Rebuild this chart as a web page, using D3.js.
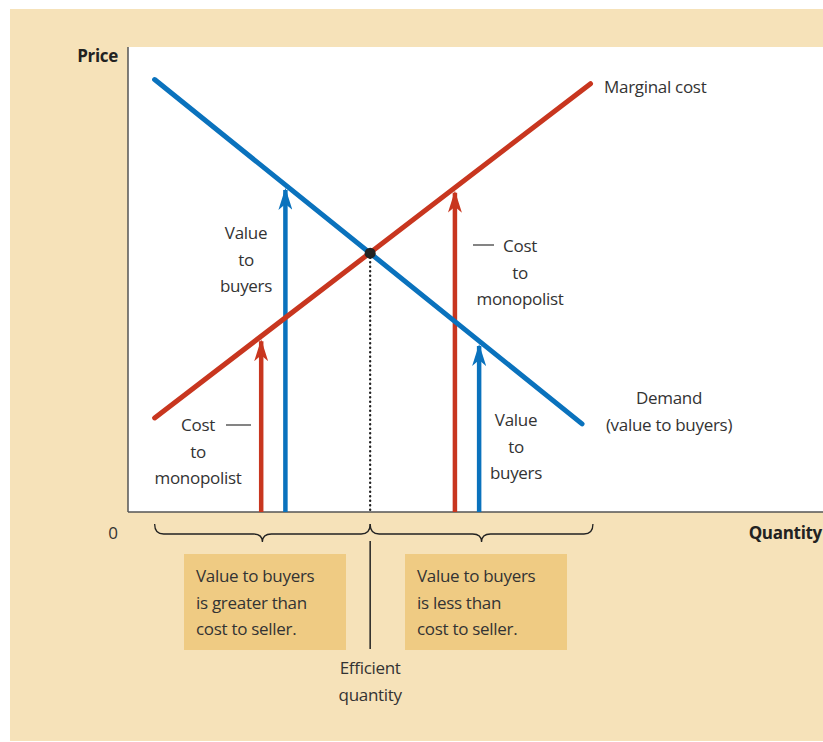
<!DOCTYPE html>
<html>
<head>
<meta charset="utf-8">
<script src="https://cdn.jsdelivr.net/npm/d3@7"></script>
<style>
  body { margin: 0; background: #fff; }
  svg text { font-family: "Open Sans", sans-serif; letter-spacing: -0.3px; fill: #333; }
</style>
</head>
<body>
<div id="chart"></div>
<script>
// curves (quantity, price)
const demand = [[1.1, 16.74], [18.75, 3.41]];
const marginalCost = [[1.1, 3.64], [19.1, 16.58]];
const efficientQ = 10;
// arrows: quantity and which curve they reach
const arrows = [
  { q: 5.5, curve: "mc" },
  { q: 6.5, curve: "d" },
  { q: 13.5, curve: "mc" },
  { q: 14.5, curve: "d" }
];
const braces = [[1.1, efficientQ], [efficientQ, 19.2]];
const boxTexts = [
  ["Value to buyers", "is greater than", "cost to seller."],
  ["Value to buyers", "is less than", "cost to seller."]
];

const W = 823, H = 742;
const blue = "#0a72bd", red = "#c8361f", beige = "#f6e2b9", boxFill = "#efcb83";
const fs = 17;

const svg = d3.select("#chart").append("svg")
  .attr("width", W).attr("height", H);

svg.append("rect").attr("x", 10).attr("y", 9).attr("width", W - 10).attr("height", 732)
  .attr("fill", beige);

const x = d3.scaleLinear().domain([0, 28.7]).range([128, 823]);
const y = d3.scaleLinear().domain([0, 18]).range([512, 47]);

svg.append("rect").attr("x", x(0)).attr("y", y(18))
  .attr("width", W - x(0)).attr("height", y(0) - y(18)).attr("fill", "#fff");

// axes
svg.append("line").attr("x1", x(0)).attr("x2", x(0)).attr("y1", y(18)).attr("y2", y(0))
  .attr("stroke", "#555").attr("stroke-width", 1.5);
svg.append("line").attr("x1", x(0)).attr("x2", W).attr("y1", y(0)).attr("y2", y(0))
  .attr("stroke", "#555").attr("stroke-width", 1.5);

const interp = (pts, q) => {
  const [a, b] = pts;
  return a[1] + (b[1] - a[1]) * (q - a[0]) / (b[0] - a[0]);
};

// arrow markers
const defs = svg.append("defs");
[["blue", blue], ["red", red]].forEach(([id, c]) => {
  defs.append("marker").attr("id", "head-" + id)
    .attr("viewBox", "0 0 22 14").attr("refX", 20).attr("refY", 7)
    .attr("markerUnits", "userSpaceOnUse")
    .attr("markerWidth", 22).attr("markerHeight", 14).attr("orient", "auto")
    .append("path").attr("d", "M0,0 L22,7 L0,14 L6,7 Z").attr("fill", c);
});

arrows.forEach(a => {
  const pts = a.curve === "mc" ? marginalCost : demand;
  const p = interp(pts, a.q);
  svg.append("line")
    .attr("x1", x(a.q)).attr("x2", x(a.q))
    .attr("y1", y(0)).attr("y2", y(p) + 5)
    .attr("stroke", a.curve === "mc" ? red : blue).attr("stroke-width", 4.5)
    .attr("marker-end", `url(#head-${a.curve === "mc" ? "red" : "blue"})`);
});

const line = d3.line().x(d => x(d[0])).y(d => y(d[1]));
svg.append("path").attr("d", line(demand)).attr("stroke", blue).attr("stroke-width", 5)
  .attr("fill", "none").attr("stroke-linecap", "round");
svg.append("path").attr("d", line(marginalCost)).attr("stroke", red).attr("stroke-width", 5)
  .attr("fill", "none").attr("stroke-linecap", "round");

const eqP = interp(demand, efficientQ);
svg.append("line").attr("x1", x(efficientQ)).attr("x2", x(efficientQ))
  .attr("y1", y(eqP)).attr("y2", y(0))
  .attr("stroke", "#222").attr("stroke-width", 2.4).attr("stroke-linecap", "round")
  .attr("stroke-dasharray", "0,4.5");
svg.append("circle").attr("cx", x(efficientQ)).attr("cy", y(eqP)).attr("r", 5.5)
  .attr("fill", "#222");

// braces below the axis
braces.forEach(([q0, q1]) => {
  const x0 = x(q0), x1 = x(q1), xm = (x0 + x1) / 2;
  const top = 524, mid = 534, tip = 542, r = 9;
  const d = `M${x0},${top} Q${x0},${mid} ${x0 + r},${mid} L${xm - r},${mid} Q${xm},${mid} ${xm},${tip}` +
    ` Q${xm},${mid} ${xm + r},${mid} L${x1 - r},${mid} Q${x1},${mid} ${x1},${top}`;
  svg.append("path").attr("d", d).attr("fill", "none").attr("stroke", "#222").attr("stroke-width", 1.3);
});

svg.append("line").attr("x1", x(efficientQ)).attr("x2", x(efficientQ))
  .attr("y1", 541).attr("y2", 649).attr("stroke", "#222").attr("stroke-width", 1.5);

// boxes
const boxX = [184, 405];
boxTexts.forEach((lines, i) => {
  svg.append("rect").attr("x", boxX[i]).attr("y", 554).attr("width", 162).attr("height", 96)
    .attr("fill", boxFill);
  lines.forEach((t, j) => {
    svg.append("text").attr("x", boxX[i] + 12).attr("y", 582 + j * 26.5)
      .attr("font-size", fs).text(t);
  });
});

function label(lines, cx, cy0, anchor = "middle", dy = 26.5) {
  lines.forEach((t, j) => {
    svg.append("text").attr("x", cx).attr("y", cy0 + j * dy)
      .attr("text-anchor", anchor).attr("font-size", fs).text(t);
  });
}

label(["Efficient", "quantity"], x(efficientQ), 674);
label(["Value", "to", "buyers"], 246, 239);
label(["Value", "to", "buyers"], 516, 426);
label(["Cost", "to", "monopolist"], 198, 431);
label(["Cost", "to", "monopolist"], 520, 252);
label(["Marginal cost"], 604, 93, "start");
label(["Demand", "(value to buyers)"], 669, 404);

// leader dashes
svg.append("line").attr("x1", 226).attr("x2", 251).attr("y1", 425).attr("y2", 425)
  .attr("stroke", "#333").attr("stroke-width", 1.2);
svg.append("line").attr("x1", 473).attr("x2", 494).attr("y1", 245).attr("y2", 245)
  .attr("stroke", "#333").attr("stroke-width", 1.2);

svg.append("text").attr("x", 118).attr("y", 62).attr("text-anchor", "end")
  .attr("font-size", fs).attr("font-weight", "bold").style("fill", "#222").text("Price");
svg.append("text").attr("x", 822).attr("y", 539).attr("text-anchor", "end")
  .attr("font-size", fs).attr("font-weight", "bold").style("fill", "#222").text("Quantity");
svg.append("text").attr("x", 113).attr("y", 539).attr("text-anchor", "middle")
  .attr("font-size", fs).text("0");
</script>
</body>
</html>
